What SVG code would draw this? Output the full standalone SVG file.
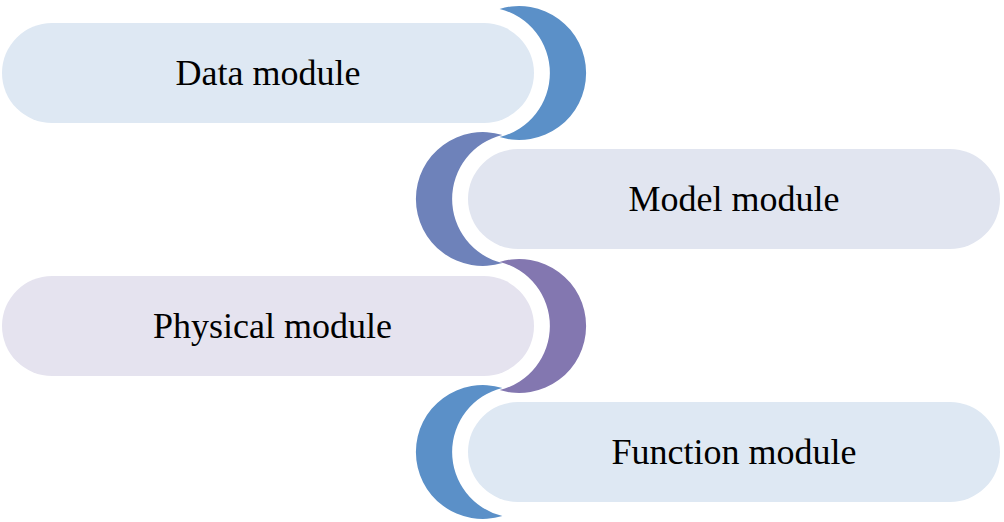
<svg xmlns="http://www.w3.org/2000/svg" width="1004" height="522" viewBox="0 0 1004 522">
<style>
.lbl{font-family:"Liberation Serif","Times New Roman",serif;font-size:36px;fill:#000;text-anchor:middle}
</style>
<rect width="1004" height="522" fill="#fff"/>
<g id="connectors">
<path id="c1" d="M499.6 8.9 A67 67 0 1 1 499.6 137.1 A66 66 0 0 0 499.6 8.9 Z" fill="#5B90C8"/>
<path id="c2" d="M502.4 134.9 A67 67 0 1 0 502.4 263.1 A66 66 0 0 1 502.4 134.9 Z" fill="#6E82BA"/>
<path id="c3" d="M499.6 261.9 A67 67 0 1 1 499.6 390.1 A66 66 0 0 0 499.6 261.9 Z" fill="#8377B0"/>
<path id="c4" d="M502.4 387.9 A67 67 0 1 0 502.4 516.1 A66 66 0 0 1 502.4 387.9 Z" fill="#5B90C8"/>
</g>
<g id="n1"><rect x="2" y="23" width="532" height="100" rx="50" fill="#DEE8F3"/><text class="lbl" x="268" y="85">Data module</text></g>
<g id="n2"><rect x="468" y="149" width="532" height="100" rx="50" fill="#E1E5F0"/><text class="lbl" x="734" y="211">Model module</text></g>
<g id="n3"><rect x="2" y="276" width="532" height="100" rx="50" fill="#E5E3EF"/><text class="lbl" x="272.5" y="338">Physical module</text></g>
<g id="n4"><rect x="468" y="402" width="532" height="100" rx="50" fill="#DEE8F3"/><text class="lbl" x="734" y="464">Function module</text></g>
</svg>
